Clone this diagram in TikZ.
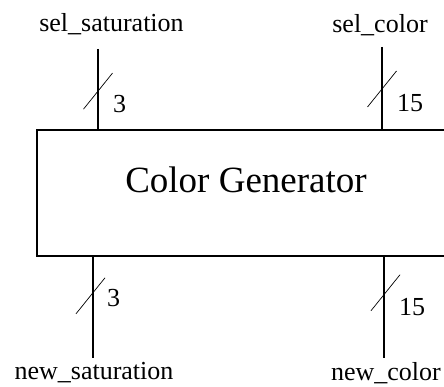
\documentclass[tikz,border=0pt]{standalone}
\usepackage{fontspec}
\setmainfont{Liberation Serif}
\usetikzlibrary{positioning,calc}

\begin{document}
\begin{tikzpicture}[x=1pt, y=-1pt,
  block/.style={draw, line width=1.2pt, outer sep=0pt,
                minimum width=423pt, minimum height=126pt},
  bus/.style={line width=1.2pt},
  slashmark/.style={line width=0.7pt},
  sig/.style={font=\fontsize{26}{30}\selectfont, inner sep=0pt, anchor=base},
  busw/.style={font=\fontsize{26}{30}\selectfont, inner sep=0pt, anchor=base west},
  title/.style={font=\fontsize{37}{42}\selectfont, inner sep=0pt, anchor=base}
]
\useasboundingbox (0,0) rectangle (444,387);
\clip (0,0) rectangle (444,387);

%% Block
\node[block] (gen) at (248.5,193) {};
\node[title] (gentxt) at (246,193) {Color Generator};

%% Inputs
\coordinate (satin) at (98,49);
\coordinate (colin) at (382,47);
\draw[bus] (satin) -- coordinate[pos=0.52] (satinmid) (satin |- gen.north);
\draw[bus] (colin) -- coordinate[pos=0.506] (colinmid) (colin |- gen.north);
\draw[slashmark] ($(satinmid)+(-14.5,18)$) -- ($(satinmid)+(14.5,-18)$);
\draw[slashmark] ($(colinmid)+(-14.5,18)$) -- ($(colinmid)+(14.5,-18)$);
\node[busw] (satinw) at ($(satinmid)+(15,21)$) {3};
\node[busw] (colinw) at ($(colinmid)+(15,23)$) {15};
\node[sig] (satinlbl) at (111.5,32) {sel\_saturation};
\node[sig] (colinlbl) at (380,33) {sel\_color};

%% Outputs
\coordinate (satout) at (93,358);
\coordinate (colout) at (384,358);
\draw[bus] (satout |- gen.south) -- coordinate[pos=0.39] (satoutmid) (satout);
\draw[bus] (colout |- gen.south) -- coordinate[pos=0.36] (coloutmid) (colout);
\draw[slashmark] ($(satoutmid)+(-17,18)$) -- ($(satoutmid)+(12,-18)$);
\draw[slashmark] ($(coloutmid)+(-13,18)$) -- ($(coloutmid)+(16,-18)$);
\node[busw] (satoutw) at ($(satoutmid)+(14,11)$) {3};
\node[busw] (coloutw) at ($(coloutmid)+(15,23)$) {15};
\node[sig] (satoutlbl) at (94,379) {new\_saturation};
\node[sig] (coloutlbl) at (386,380) {new\_color};
\end{tikzpicture}
\end{document}
